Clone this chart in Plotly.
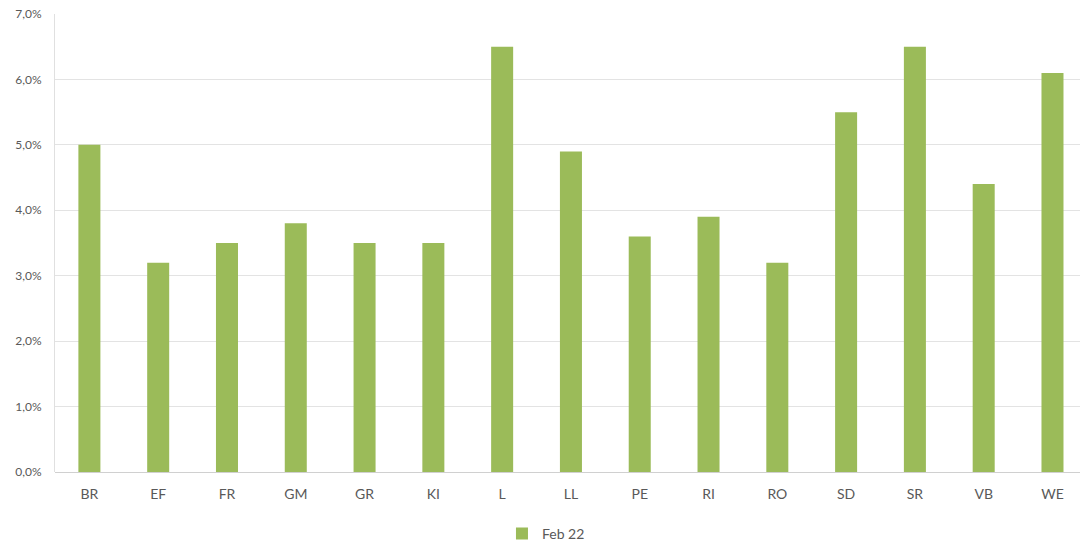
import plotly.graph_objects as go

categories = ["BR", "EF", "FR", "GM", "GR", "KI", "L", "LL", "PE", "RI", "RO", "SD", "SR", "VB", "WE"]
values = [0.050, 0.032, 0.035, 0.038, 0.035, 0.035, 0.065, 0.049, 0.036, 0.039, 0.032, 0.055, 0.065, 0.044, 0.061]
series_name = "Feb 22"
y_ticks = [0.0, 0.01, 0.02, 0.03, 0.04, 0.05, 0.06, 0.07]

fig = go.Figure()
fig.add_trace(go.Bar(
    x=categories, y=values, name=series_name,
    marker=dict(color="#9BBB59", line=dict(width=0)),
    width=0.32,
    showlegend=True,
))

fig.update_layout(
    width=1080, height=544,
    margin=dict(l=55, r=0, t=14, b=72, autoexpand=False),
    paper_bgcolor="white", plot_bgcolor="white",
    separators=",.",
    font=dict(family="Lato, Open Sans, sans-serif", size=13, color="#595959"),
    showlegend=True,
    legend=dict(orientation="h", x=0.479, xanchor="center", y=-0.135, yanchor="middle",
                itemwidth=30, font=dict(size=14, color="#595959")),
    xaxis=dict(range=[-0.5, 14.4], showgrid=False, showline=False, ticks="",
               tickfont=dict(size=14, color="#595959"), ticklabelstandoff=12),
    yaxis=dict(range=[0, 0.07], tickvals=y_ticks, tickformat=".1%",
               showgrid=True, gridcolor="#E3E3E3", gridwidth=1,
               zeroline=True, zerolinecolor="#D0D0D0", zerolinewidth=1,
               showline=True, linecolor="#E0E0E0", linewidth=1, ticks="",
               tickfont=dict(size=12, color="#595959"), ticklabelstandoff=10),
)

fig.write_html("out.html")
